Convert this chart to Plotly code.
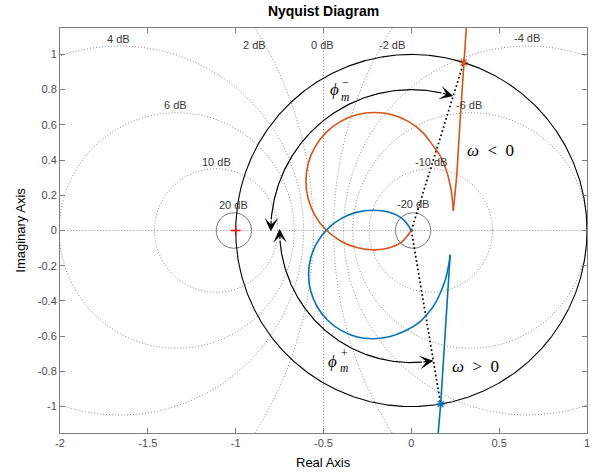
import numpy as np
import plotly.graph_objects as go

# ---------------- open-loop frequency response L(jw) ----------------
# omega > 0 : loop part, from the cusp to omega -> +inf (origin)
pos_loop_re = [0.221, 0.212, 0.195, 0.165, 0.135, 0.095, 0.045, -0.040, -0.126, -0.220,
               -0.314, -0.403, -0.478, -0.536, -0.573, -0.585, -0.573, -0.536, -0.478,
               -0.403, -0.314, -0.220, -0.125, -0.045, 0.0]
pos_loop_im = [-0.138, -0.200, -0.275, -0.355, -0.415, -0.470, -0.522, -0.572, -0.603, -0.615,
               -0.603, -0.566, -0.508, -0.433, -0.344, -0.250, -0.156, -0.068, 0.008,
               0.066, 0.103, 0.115, 0.103, 0.062, 0.0]
# omega > 0 : low-frequency branch, from the cusp down to omega -> 0+
pos_low_re = [0.221, 0.203, 0.185, 0.167, 0.153, 0.140]
pos_low_im = [-0.138, -0.431, -0.714, -0.986, -1.149, -1.350]

# omega < 0 : loop part, from the cusp to omega -> -inf (origin)
neg_loop_re = [0.239, 0.228, 0.200, 0.162, 0.128, 0.066, -0.015, -0.109, -0.210, -0.311,
               -0.405, -0.486, -0.548, -0.587, -0.600, -0.587, -0.548, -0.486, -0.405,
               -0.311, -0.210, -0.120, -0.055, 0.0]
neg_loop_im = [0.112, 0.221, 0.340, 0.428, 0.475, 0.556, 0.618, 0.657, 0.670, 0.657,
               0.618, 0.556, 0.475, 0.381, 0.280, 0.179, 0.085, 0.004, -0.058,
               -0.097, -0.110, -0.097, -0.066, 0.0]
# omega < 0 : low-frequency branch, from the cusp up to omega -> 0-
neg_low_re = [0.239, 0.259, 0.276, 0.298, 0.323]
neg_low_im = [0.112, 0.316, 0.599, 0.954, 1.300]

# gain-crossover points |L| = 1
cross_pos = (0.167, -0.986)
cross_neg = (0.298, 0.954)

# closed-loop magnitude contours (dB)
m_db = [20, 10, 6, 4, 2, 0, -2, -4, -6, -10, -20]
m_labels = ["20 dB", "10 dB", "6 dB", "4 dB", "2 dB", "0 dB",
            "-2 dB", "-4 dB", "-6 dB", "-10 dB", "-20 dB"]

# axis ticks
x_ticks = [-2, -1.5, -1, -0.5, 0, 0.5, 1]
x_ticktext = ["-2", "-1.5", "-1", "-0.5", "0", "0.5", "1"]
y_ticks = [-1, -0.8, -0.6, -0.4, -0.2, 0, 0.2, 0.4, 0.6, 0.8, 1]
y_ticktext = ["-1", "-0.8", "-0.6", "-0.4", "-0.2", "0", "0.2", "0.4", "0.6", "0.8", "1"]

# ---------------- styling ----------------
BLUE = "#0072BD"
RED = "#D95319"
GRID = "#8c8c8c"
SANS = "Liberation Sans, Arial, Helvetica, sans-serif"
SERIF = "Liberation Serif, Times New Roman, DejaVu Serif, serif"

# label anchors for the M-circle texts (data units)
m_label_pos = {
    "20 dB": (-1.01, 0.145), "10 dB": (-1.11, 0.389), "6 dB": (-1.341, 0.713),
    "4 dB": (-1.665, 1.09), "2 dB": (-0.892, 1.052), "0 dB": (-0.504, 1.056),
    "-2 dB": (-0.11, 1.056), "-4 dB": (0.661, 1.094), "-6 dB": (0.33, 0.713),
    "-10 dB": (0.112, 0.39), "-20 dB": (0.008, 0.15),
}

fig = go.Figure()

# ---- M-circle grid ----
t = np.linspace(0, 2 * np.pi, 1441)
for db in m_db:
    if db == 0:
        gx, gy = [-0.5, -0.5], [-5, 5]
    else:
        M = 10 ** (db / 20)
        c = -M ** 2 / (M ** 2 - 1)
        r = abs(M / (M ** 2 - 1))
        gx, gy = c + r * np.cos(t), r * np.sin(t)
    if abs(db) >= 20:
        line = dict(color="#7a7a7a", width=1)
    else:
        line = dict(color=GRID, width=1, dash="1px,2px")
    fig.add_trace(go.Scatter(x=gx, y=gy, mode="lines", line=line, hoverinfo="skip"))

# real axis
fig.add_trace(go.Scatter(x=[-3, 2], y=[0, 0], mode="lines",
                         line=dict(color=GRID, width=1, dash="1px,2px"), hoverinfo="skip"))

# ---- unit circle ----
fig.add_trace(go.Scatter(x=np.cos(t), y=np.sin(t), mode="lines",
                         line=dict(color="black", width=1.1), hoverinfo="skip"))

# ---- phase-margin arcs ----
ang_neg = np.degrees(np.arctan2(cross_neg[1], cross_neg[0]))
ang_pos = np.degrees(np.arctan2(cross_pos[1], cross_pos[0]))
arcs = [(0.80, ang_neg, 180.4), (0.75, ang_pos, -180.6)]
BACK = 5.0
annotations = []
for r, a0, a1 in arcs:
    sgn = 1 if a1 > a0 else -1
    th = np.radians(np.linspace(a0 + sgn * BACK, a1 - sgn * BACK, 200))
    fig.add_trace(go.Scatter(x=r * np.cos(th), y=r * np.sin(th), mode="lines",
                             line=dict(color="black", width=1.2), hoverinfo="skip"))
    for tip, tail in [(a0, a0 + sgn * BACK), (a1, a1 - sgn * BACK)]:
        tr, tl = np.radians(tip), np.radians(tail)
        annotations.append(dict(
            x=r * np.cos(tr), y=r * np.sin(tr), ax=r * np.cos(tl), ay=r * np.sin(tl),
            xref="x", yref="y", axref="x", ayref="y", text="", showarrow=True,
            arrowhead=3, arrowsize=1.9, arrowwidth=1.2, arrowcolor="black", standoff=0))

# ---- dotted rays from the origin to the crossover points ----
for (cx, cy) in (cross_neg, cross_pos):
    fig.add_trace(go.Scatter(x=[0, cx], y=[0, cy], mode="lines",
                             line=dict(color="black", width=1.7, dash="1.7px,2.6px"),
                             hoverinfo="skip"))

# ---- Nyquist curves ----
fig.add_trace(go.Scatter(x=neg_loop_re, y=neg_loop_im, mode="lines", line_shape="spline",
                         line=dict(color=RED, width=1.6, smoothing=0.9), hoverinfo="skip"))
fig.add_trace(go.Scatter(x=neg_low_re, y=neg_low_im, mode="lines",
                         line=dict(color=RED, width=1.6), hoverinfo="skip"))
fig.add_trace(go.Scatter(x=pos_loop_re, y=pos_loop_im, mode="lines", line_shape="spline",
                         line=dict(color=BLUE, width=1.6, smoothing=0.9), hoverinfo="skip"))
fig.add_trace(go.Scatter(x=pos_low_re, y=pos_low_im, mode="lines",
                         line=dict(color=BLUE, width=1.6), hoverinfo="skip"))

# crossover markers
fig.add_trace(go.Scatter(x=[cross_neg[0]], y=[cross_neg[1]], mode="markers",
                         marker=dict(symbol="asterisk-open", size=7, color=RED,
                                     line=dict(color=RED, width=1.2)), hoverinfo="skip"))
fig.add_trace(go.Scatter(x=[cross_pos[0]], y=[cross_pos[1]], mode="markers",
                         marker=dict(symbol="asterisk-open", size=7, color=BLUE,
                                     line=dict(color=BLUE, width=1.2)), hoverinfo="skip"))
# critical point
fig.add_trace(go.Scatter(x=[-1], y=[0], mode="markers",
                         marker=dict(symbol="cross-thin", size=7, color="#ff0000",
                                     line=dict(color="#ff0000", width=1.3)), hoverinfo="skip"))

# ---- M-circle labels ----
for lab in m_labels:
    lx, ly = m_label_pos[lab]
    annotations.append(dict(x=lx, y=ly, xref="x", yref="y", text=lab, showarrow=False,
                            font=dict(family=SANS, size=11, color="#3a3a3a")))

# ---- math labels ----
def math(x, y, text, size):
    return dict(x=x, y=y, xref="x", yref="y", text=text, showarrow=False,
                font=dict(family=SERIF, size=size, color="black"))

annotations += [
    math(-0.44, 0.798, "<i>\u03d5</i>", 17),
    math(-0.376, 0.799, "\u2212<br><i>m</i>", 11.5),
    math(-0.449, -0.743, "<i>\u03d5</i>", 17),
    math(-0.381, -0.736, "+<br><i>m</i>", 11.5),
    math(0.451, 0.457, "<i>\u03c9</i>\u2002<\u20020", 17),
    math(0.366, -0.772, "<i>\u03c9</i>\u2002>\u20020", 17),
]

# axis titles
annotations += [
    dict(x=0.5, y=-30 / 405, xref="paper", yref="paper", text="Real Axis", showarrow=False,
         yanchor="middle", font=dict(family=SANS, size=13, color="black")),
    dict(x=-40 / 530, y=0.5, xref="paper", yref="paper", text="Imaginary Axis",
         showarrow=False, textangle=-90, xanchor="center",
         font=dict(family=SANS, size=13, color="black")),
]

axis_common = dict(showgrid=False, zeroline=False, showline=True, linecolor="#7f7f7f",
                   linewidth=1, mirror="ticks", ticks="inside", ticklen=5,
                   tickcolor="#7f7f7f", tickfont=dict(family=SANS, size=11, color="#505050"))

fig.update_layout(
    width=600, height=474,
    margin=dict(l=60, r=10, t=28, b=41),
    paper_bgcolor="white", plot_bgcolor="white",
    showlegend=False,
    title=dict(text="<b>Nyquist Diagram</b>", x=0.5, xref="paper", y=1 - 11 / 474,
               yref="container", yanchor="middle",
               font=dict(family=SANS, size=14, color="black")),
    xaxis=dict(range=[-2, 1], tickvals=x_ticks, ticktext=x_ticktext, **axis_common),
    yaxis=dict(range=[-1.15, 1.15], tickvals=y_ticks, ticktext=y_ticktext, **axis_common),
    annotations=annotations,
)

fig.write_html("out.html")
